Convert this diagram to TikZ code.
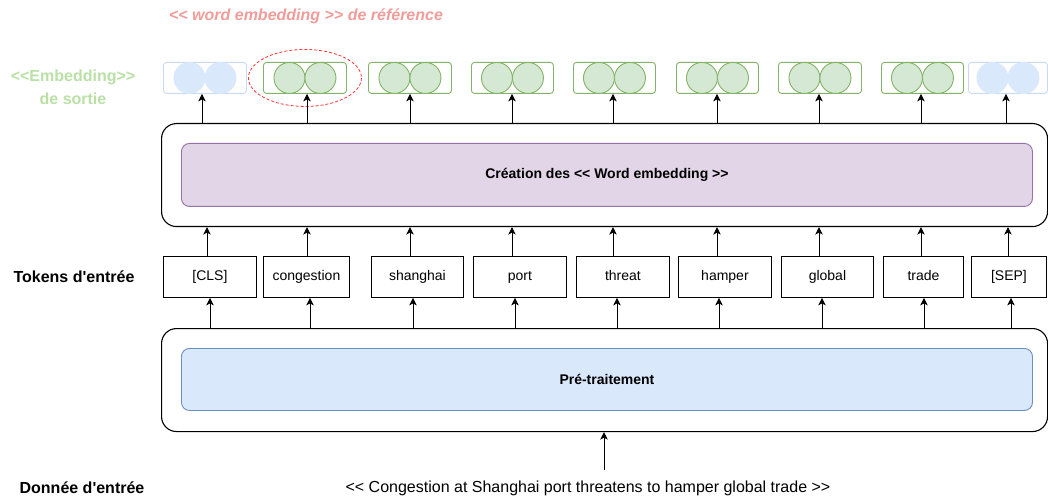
\documentclass[tikz,border=0pt]{standalone}
\usepackage{fontspec}
\setmainfont{Liberation Sans}[Ligatures=TeXOff]
\usetikzlibrary{arrows.meta,positioning,calc}
\definecolor{gfill}{HTML}{D5E8D4}
\definecolor{gdraw}{HTML}{82B366}
\definecolor{bfill}{HTML}{DAE8FC}
\definecolor{bdraw}{HTML}{6C8EBF}
\definecolor{pfill}{HTML}{E1D5E7}
\definecolor{pdraw}{HTML}{9673A6}
\definecolor{salmon}{HTML}{F19C99}
\definecolor{lgreen}{HTML}{B9E0A5}
\definecolor{redd}{HTML}{FF3333}
\tikzset{
  box/.style={draw=black, line width=0.9pt, fill=white, inner sep=0pt, anchor=north west},
  tokt/.style={font=\fontsize{14}{16}\selectfont, inner sep=0pt, text height=10pt, text depth=3pt},
  embG/.style={draw=gdraw, line width=0.9pt, fill=white, rounded corners=3pt, inner sep=0pt, anchor=north west},
  embB/.style={draw=bfill!85!bdraw, line width=0.9pt, fill=white, rounded corners=3pt, inner sep=0pt, anchor=north west},
  circG/.style={circle, draw=gdraw, fill=gfill, line width=0.9pt, minimum size=31pt, inner sep=0pt},
  circB/.style={circle, draw=bfill, fill=bfill, line width=0.9pt, minimum size=31pt, inner sep=0pt},
  outerbox/.style={draw=black, line width=1.1pt, fill=white, rounded corners=15pt, inner sep=0pt, anchor=north west},
  innerP/.style={draw=pdraw, fill=pfill, line width=0.9pt, rounded corners=8pt, inner sep=0pt, anchor=north west},
  innerB/.style={draw=bdraw, fill=bfill, line width=0.9pt, rounded corners=8pt, inner sep=0pt, anchor=north west},
  arr/.style={draw=black, line width=0.9pt, -{Stealth[length=7.5pt,width=7.5pt,inset=2pt]}},
  lbl/.style={font=\bfseries\fontsize{16}{19}\selectfont, inner sep=0pt, align=center},
}
\begin{document}
\begin{tikzpicture}[x=1pt,y=-1pt]
\useasboundingbox (0,0) rectangle (1048,502);
% titles
\node[lbl, text=salmon, font=\bfseries\itshape\fontsize{16}{19}\selectfont] (reftitle) at (306,16) {<< word embedding >> de référence};
\node[lbl, text=lgreen, font=\bfseries\fontsize{16}{23}\selectfont] (outlbl) at (73,87) {<<Embedding>>\\de sortie};
\node[lbl] (toklbl) at (74,277) {Tokens d'entrée};
\node[lbl] (inlbl) at (82,488) {Donnée d'entrée};
\node[font=\fontsize{16}{19}\selectfont, inner sep=0pt] (sent) at (588,488) {<< Congestion at Shanghai port threatens to hamper global trade >>};

% outer boxes
\node[outerbox, minimum width=886pt, minimum height=103pt] (outerU) at (161,123) {};
\node[innerP, minimum width=851pt, minimum height=63pt] (creat) at (181,143) {};
\node[font=\bfseries\fontsize{14}{16}\selectfont] (creatt) at (creat.center) {Création des << Word embedding >>};
\node[outerbox, minimum width=886pt, minimum height=103pt] (outerL) at (161,328) {};
\node[innerB, minimum width=851pt, minimum height=62pt] (pretr) at (181,348) {};
\node[font=\bfseries\fontsize{14}{16}\selectfont] (pretrt) at (pretr.center) {Pré-traitement};

% embeddings
\foreach \i/\xa/\xb in {1/163/246,2/263/346,3/368/451,4/471/553,5/573/655,6/676/758,7/778/861,8/881/963,9/968/1047}{
  \pgfmathsetmacro\w{\xb-\xa}
  \ifnum\i=1 \def\st{embB}\def\cs{circB}\else\ifnum\i=9 \def\st{embB}\def\cs{circB}\else\def\st{embG}\def\cs{circG}\fi\fi
  \node[\st, minimum width=\w pt, minimum height=31pt] (e\i) at (\xa,62) {};
  \node[\cs] (e\i l) at ($(e\i.center)+(-15.5,0)$) {};
  \node[\cs] (e\i r) at ($(e\i.center)+(15.5,0)$) {};
}
% dashed ellipse
\draw[redd, line width=0.8pt, dash pattern=on 3pt off 2pt] (e2.center) ellipse [x radius=56.5, y radius=28.5];

% tokens
\foreach \i/\xa/\xb/\t in {1/163/256/[CLS],2/263/349/congestion,3/371/463/shanghai,4/473/566/port,5/576/669/threat,6/678/771/hamper,7/781/873/global,8/883/963/trade,9/971/1046/[SEP]}{
  \pgfmathsetmacro\w{\xb-\xa}
  \node[box, minimum width=\w pt, minimum height=41pt] (t\i) at (\xa,256) {};
  \node[tokt] (tt\i) at (t\i.center) {\t};
}

% arrows top: outerU -> embeddings
\foreach \i/\x in {1/202,2/307,3/410,4/512,5/613,6/717,7/819,8/921,9/1006}{
  \coordinate (ca\i) at (\x,0);
  \draw[arr] (outerU.north -| ca\i) -- (e\i.south -| ca\i);
}
% tokens -> outerU
\foreach \i/\x in {1/207,2/307,3/410,4/512,5/613,6/717,7/819,8/921,9/1008}{
  \coordinate (cb\i) at (\x,0);
  \draw[arr] (t\i.north -| cb\i) -- (outerU.south -| cb\i);
}
% outerL -> tokens
\foreach \i/\x in {1/210,2/310,3/413,4/515,5/617,6/719,7/822,8/924,9/1011}{
  \coordinate (cc\i) at (\x,0);
  \draw[arr] (outerL.north -| cc\i) -- (t\i.south -| cc\i);
}
% input arrow
\coordinate (inp) at (604,470);
\draw[arr] (inp) -- (outerL.south -| inp);
\end{tikzpicture}
\end{document}
